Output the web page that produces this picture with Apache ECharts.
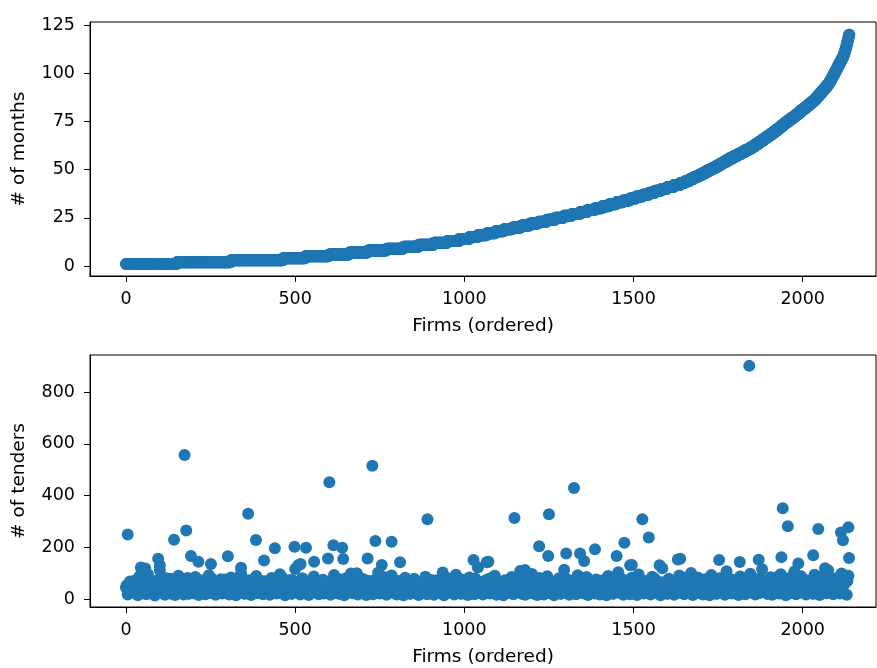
<!DOCTYPE html>
<html>
<head>
<meta charset="utf-8">
<script src="https://cdn.jsdelivr.net/npm/echarts@6/dist/echarts.min.js"></script>
<style>
html,body{margin:0;padding:0;background:#fff;}
#chart{width:877px;height:668px;}
</style>
</head>
<body>
<div id="chart"></div>
<script>
// Top panel: sorted # of months per firm, stored as run lengths:
// monthValues[i] months occurs for monthCounts[i] consecutive (ordered) firms.
var monthValues = [];
for (var v = 1; v <= 120; v++) monthValues.push(v);
var monthCounts = [
150,160,154,66,70,60,55,55,50,45,
45,40,35,30,25,26,26,25,25,26,
26,25,25,25,25,24,24,22,22,21,
21,21,20,20,19,19,19,18,18,18,
19,19,14,13,12,12,12,11,11,11,
11,10,10,10,10,11,11,11,11,11,
10,9,9,8,8,8,8,8,8,8,
7,7,7,7,8,8,8,7,7,7,
7,7,7,7,7,6,5,5,5,5,
5,5,5,4,4,3,3,3,3,3,
3,3,3,3,3,3,3,3,2,2,
2,1,2,1,2,1,2,1,1,2
];

// Bottom panel: # of tenders; dense band sampled every 5th firm (firm = i*5)
var tendersBandStep = 5;
var tendersBand = [
45,18,62,25,33,71,20,15,88,40,28,56,19,95,35,22,67,14,49,30,
110,24,58,17,80,36,21,64,29,16,52,90,27,43,18,75,33,20,61,38,
22,85,31,16,54,26,70,19,41,92,23,35,60,17,48,28,77,21,39,55,
26,18,83,32,47,15,66,24,100,37,20,58,29,73,16,44,27,89,22,51,
34,19,69,25,42,17,81,30,56,21,38,96,23,63,15,47,28,74,20,40,
116,26,53,18,79,33,22,61,16,45,31,87,24,57,19,70,36,21,49,28,
65,17,40,93,25,52,20,76,34,15,58,27,43,99,22,67,30,18,84,37,
23,55,16,71,29,46,19,62,35,102,21,50,26,78,17,41,32,91,24,59,
18,68,30,44,15,82,27,53,20,37,74,22,48,16,63,34,25,86,19,42,
28,57,17,72,31,45,21,64,15,50,26,79,23,39,18,94,33,55,20,68,
25,47,16,83,30,60,19,41,122,24,66,18,52,35,77,21,44,29,90,17,
58,27,38,15,73,22,49,31,85,19,62,26,43,108,20,54,17,69,34,24,
97,21,46,16,75,29,57,18,40,88,23,64,32,15,51,26,80,20,37,113,
24,59,17,71,33,45,19,92,27,55,22,38,84,16,63,30,48,21,76,28,
18,67,35,52,15,89,24,42,20,61,31,104,23,47,17,73,29,56,19,82,
26,40,16,95,33,58,21,70,25,44,18,86,30,53,22,65,15,119,27,49,
20,78,34,46,17,62,28,91,23,55,19,39,72,24,101,16,57,31,83,22,
43,18,68,29,50,15,93,26,61,20,37,80,23,54,17,107,32,45,21,74,
27,59,16,87,35,48,19,66,24,98,30,41,18,77,22,56,115,28,63,20,
38,84,17,51,26,70,21,96,33,45,15,79,29,60,23,106,19,53,36,88,
24,47,18,72,31,58,20,94,27,64,16,85,34,43,22,111,25,67,19,80,
30,55,21,99,26,62,17,90
];
// Further firms of the dense band (firm = i*10 + 2), mid-range counts
var tendersBand2Step = 10;
var tendersBand2Offset = 2;
var tendersBand2 = [
52,68,44,75,58,40,83,61,49,72,55,66,41,78,63,47,70,57,81,50,
64,45,73,59,38,80,54,67,43,76,60,48,71,56,84,46,65,53,74,42,
69,57,39,77,62,50,82,55,44,73,66,41,79,58,48,70,61,36,75,53,
60,47,74,65,42,81,56,51,68,38,77,63,45,72,58,49,85,54,40,67,
71,55,43,66,59,78,46,62,52,39,74,68,48,80,57,44,70,61,50,76,
53,65,41,79,60,47,72,56,83,45,68,58,39,75,63,51,70,44,77,59,
66,49,81,57,42,73,62,54,69,40,78,59,47,71,64,52,84,45,67,56,
61,74,43,58,70,50,80,55,46,76,63,41,72,57,68,49,79,53,65,44,
75,59,48,69,56,82,45,63,71,52,40,77,60,67,46,73,58,51,80,62,
47,70,55,64,43,78,61,53,74,49,66,58,83,44,69,57,72,50,76,63,
54,71,46,67,60,79,48,65,73,52,62,77,56,70
];
// Individually read high points: firm index and # of tenders
var outlierFirms = [5,44,57,95,100,142,173,178,192,214,251,301,340,361,384,408,440,498,509,516,532,556,597,601,613,639,642,682,714,728,737,756,785,810,891,936,1027,1066,1071,1148,1179,1221,1248,1250,1301,1324,1342,1354,1386,1450,1473,1490,1495,1526,1545,1577,1631,1638,1753,1814,1842,1870,1937,1941,1956,1987,2031,2046,2066,2113,2119,2135,2137];
var outlierTenders = [249,122,118,156,130,229,557,265,166,144,135,165,121,330,228,149,196,202,131,135,198,144,157,451,208,198,155,100,157,515,224,132,221,142,308,103,151,142,144,313,112,204,166,328,176,429,176,147,192,166,218,131,132,308,238,131,153,156,151,143,901,152,162,351,281,137,169,271,119,257,227,277,159];

var xTicks = [0,500,1000,1500,2000];
var monthTicks = [0,25,50,75,100,125];
var tenderTicks = [0,200,400,600,800];

// Build series data
var monthsData = [];
var idx = 0;
for (var i = 0; i < monthValues.length; i++) {
  for (var c = 0; c < monthCounts[i]; c++) { monthsData.push([idx, monthValues[i]]); idx++; }
}
var bandData = tendersBand.map(function (t, k) { return [k * tendersBandStep, t]; })
  .concat(tendersBand2.map(function (t, k) { return [k * tendersBand2Step + tendersBand2Offset, t]; }));
var outlierData = outlierFirms.map(function (f, k) { return [f, outlierTenders[k]]; });

var FONT = 'DejaVu Sans';
var BLUE = '#1f77b4';
function plain(v) { return String(v); }
function xAxis(gi) {
  return {
    type: 'value', gridIndex: gi, min: -106.4, max: 2216.6,
    name: 'Firms (ordered)', nameLocation: 'middle', nameGap: 41,
    nameTextStyle: {fontFamily: FONT, fontSize: 18.5, color: '#000'},
    axisLine: {show: true, onZero: false, lineStyle: {color: '#000', width: 1}},
    axisTick: {show: true, inside: false, length: 6, customValues: xTicks, lineStyle: {color: '#000'}},
    axisLabel: {show: true, customValues: xTicks, formatter: plain, margin: 14, fontFamily: FONT, fontSize: 17.5, color: '#000'},
    splitLine: {show: false}
  };
}
function yAxis(gi, min, max, ticks, name) {
  return {
    type: 'value', gridIndex: gi, min: min, max: max,
    name: name, nameLocation: 'middle', nameGap: 61,
    nameTextStyle: {fontFamily: FONT, fontSize: 18.5, color: '#000'},
    axisLine: {show: true, onZero: false, lineStyle: {color: '#000', width: 1}},
    axisTick: {show: true, inside: false, length: 6, customValues: ticks, lineStyle: {color: '#000'}},
    axisLabel: {show: true, customValues: ticks, formatter: plain, margin: 15, fontFamily: FONT, fontSize: 17.5, color: '#000'},
    splitLine: {show: false}
  };
}

var chart = echarts.init(document.getElementById('chart'), null, {renderer: 'canvas'});
chart.setOption({
  animation: false,
  backgroundColor: '#fff',
  grid: [
    {left: 90, right: 1, top: 22, height: 254, show: true, borderColor: '#000', borderWidth: 1, backgroundColor: 'transparent', containLabel: false},
    {left: 90, right: 1, top: 355, height: 254, show: true, borderColor: '#000', borderWidth: 1, backgroundColor: 'transparent', containLabel: false}
  ],
  xAxis: [xAxis(0), xAxis(1)],
  yAxis: [
    yAxis(0, -5.19, 126.56, monthTicks, '# of months'),
    yAxis(1, -30.7, 943, tenderTicks, '# of tenders')
  ],
  series: [
    {type: 'scatter', xAxisIndex: 0, yAxisIndex: 0, data: monthsData, symbolSize: 12, itemStyle: {color: BLUE, opacity: 1}, silent: true},
    {type: 'scatter', xAxisIndex: 1, yAxisIndex: 1, data: bandData, symbolSize: 12, itemStyle: {color: BLUE, opacity: 1}, silent: true},
    {type: 'scatter', xAxisIndex: 1, yAxisIndex: 1, data: outlierData, symbolSize: 12, itemStyle: {color: BLUE, opacity: 1}, silent: true}
  ]
});
</script>
</body>
</html>
